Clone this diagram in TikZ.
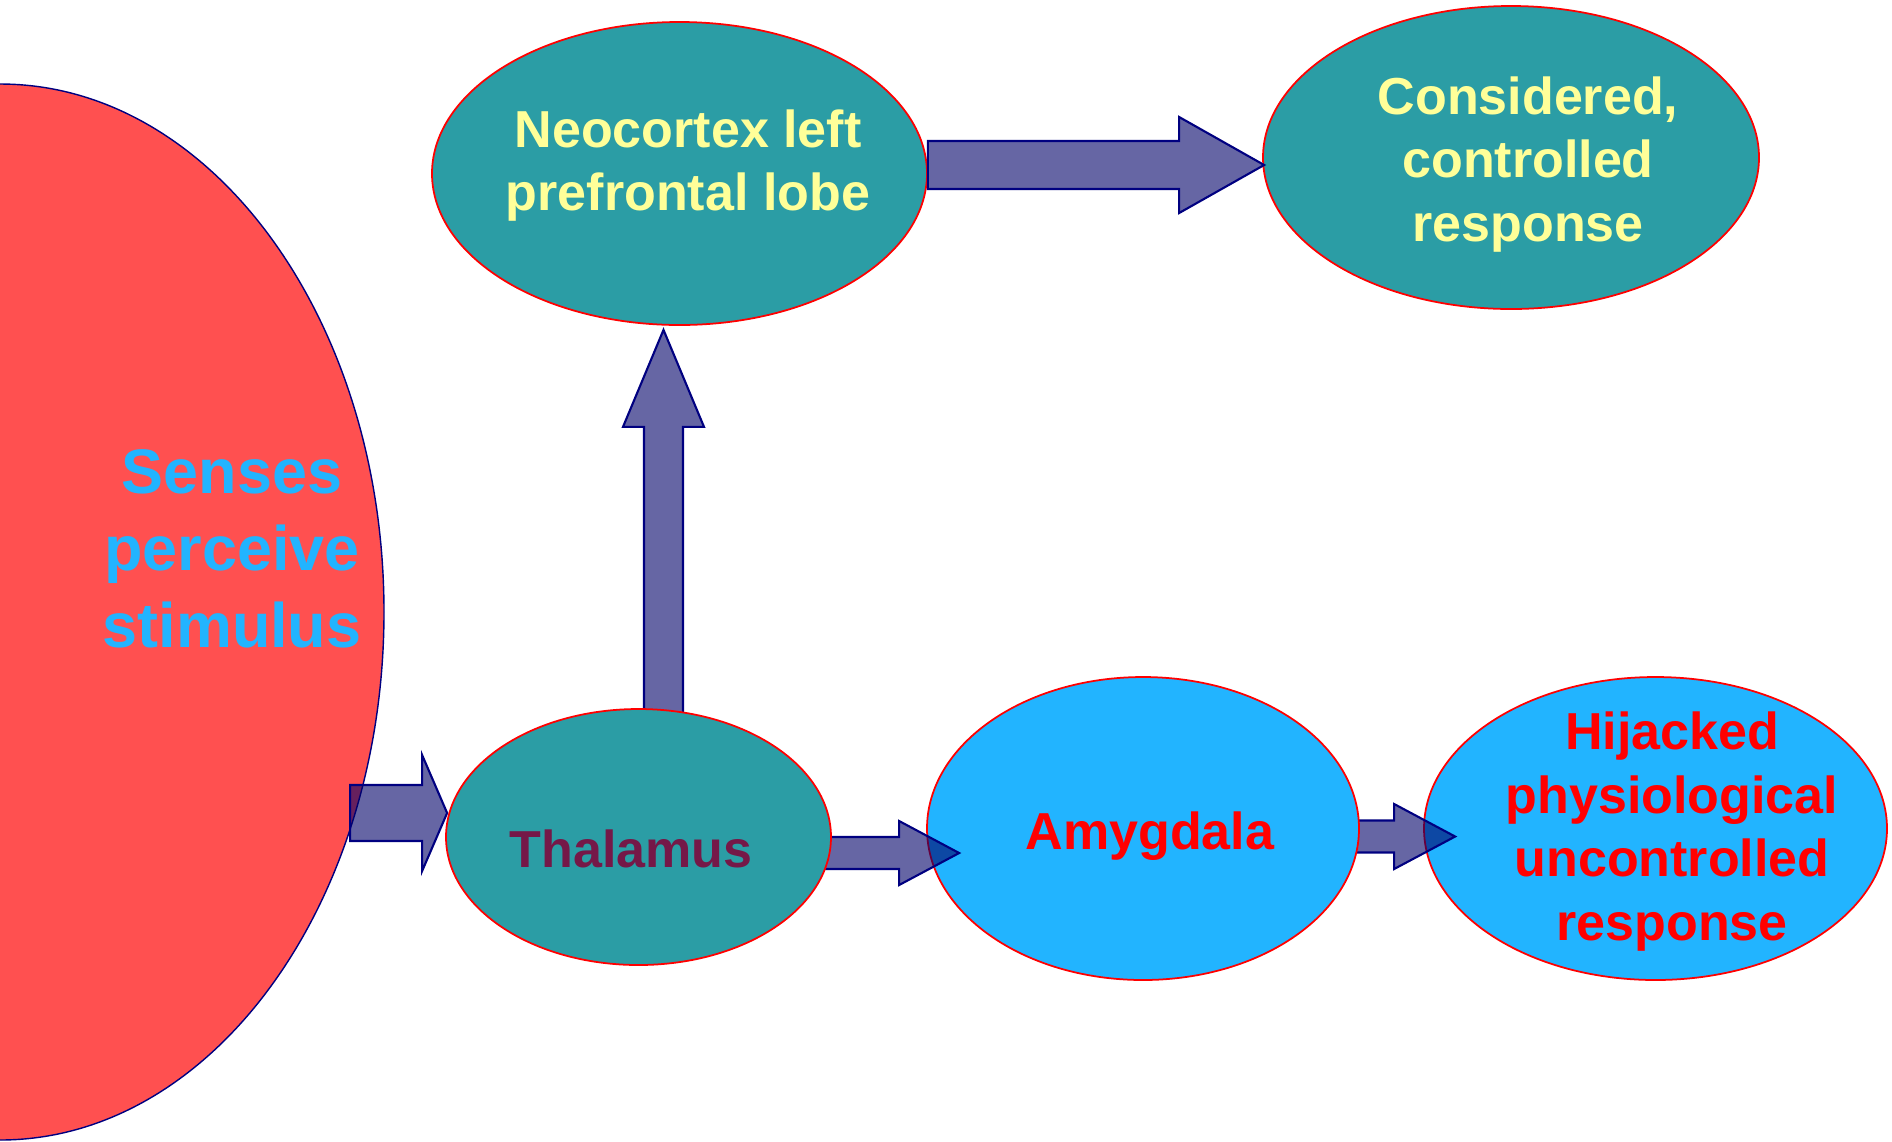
\documentclass[tikz,border=0pt]{standalone}
\usepackage{fontspec}
\setmainfont{Liberation Sans}
\usepackage{tikz}
\usetikzlibrary{calc,positioning,shapes.geometric}

\definecolor{sensered}{HTML}{FF5050}
\definecolor{regionteal}{HTML}{2B9DA5}
\definecolor{regionblue}{HTML}{22B4FF}
\definecolor{paleyellow}{HTML}{FFFF99}
\definecolor{thalred}{HTML}{751848}
\definecolor{arrowfill}{RGB}{0,0,104}
\definecolor{arrowline}{HTML}{000080}

\pgfdeclarelayer{bottom}
\pgfdeclarelayer{lower}
\pgfdeclarelayer{upper}
\pgfdeclarelayer{top}
\pgfsetlayers{bottom,lower,main,upper,top}

\tikzset{
	region/.style={shape=ellipse,draw=red,line width=0.5pt,inner sep=0pt},
	regiontext/.style={font=\bfseries\fontsize{14.8}{18.1}\selectfont,align=center,inner sep=0pt},
	blockarrow/.style={draw=arrowline,line width=0.6pt,fill=arrowfill,fill opacity=0.6,line join=miter},
}

% block arrows: start, tip, shaft half width, head half width, head length
\newcommand{\rightblock}[5]{%
	\draw[blockarrow] ($(#1 |- #2)+(0,#3)$) -- ($(#2)+(-#5,#3)$) -- ($(#2)+(-#5,#4)$) -- (#2)
		-- ($(#2)+(-#5,-#4)$) -- ($(#2)+(-#5,-#3)$) -- ($(#1 |- #2)+(0,-#3)$) -- cycle;}
\newcommand{\upblock}[5]{%
	\draw[blockarrow] ($(#2 |- #1)+(#3,0)$) -- ($(#2)+(#3,#5)$) -- ($(#2)+(#4,#5)$) -- (#2)
		-- ($(#2)+(-#4,#5)$) -- ($(#2)+(-#3,#5)$) -- ($(#2 |- #1)+(-#3,0)$) -- cycle;}

\begin{document}
\begin{tikzpicture}[x=0.1mm,y=-0.1mm]
	\useasboundingbox (0,0) rectangle (1892,1141);
	\begin{pgfonlayer}{bottom}
		\node(senses) [shape=ellipse,draw=arrowline,fill=sensered,line width=0.4pt,inner sep=0pt,minimum width=76.8mm,minimum height=105.6mm] at (0,612) {};
		\node(hijacked) [region,fill=regionblue,minimum width=46.3mm,minimum height=30.3mm] at (1655.5,828.5) {};
	\end{pgfonlayer}
	\node(amygdala) [region,fill=regionblue,minimum width=43.2mm,minimum height=30.3mm] at (1143,828.5) {};
	\node(neocortex) [region,fill=regionteal,minimum width=49.5mm,minimum height=30.3mm] at (679.5,173.5) {};
	\node(considered) [region,fill=regionteal,minimum width=49.6mm,minimum height=30.3mm] at (1511,157.5) {};
	\begin{pgfonlayer}{top}
		\node(thalamus) [region,fill=regionteal,minimum width=38.5mm,minimum height=25.6mm] at (638.5,837) {};
		% texts
		\node(sensestext) [regiontext,font=\bfseries\fontsize{17.9}{21.9}\selectfont,text=regionblue] at ($(senses)+(232,-63)$) {Senses\\perceive\\stimulus};
		\node(neotext) [regiontext,text=paleyellow] at ($(neocortex)+(8.5,-8)$) {Neocortex left\\prefrontal lobe};
		\node(constext) [regiontext,text=paleyellow] at ($(considered)+(17,7)$) {Considered,\\controlled\\response};
		\node(thaltext) [regiontext,text=thalred] at ($(thalamus)+(-7.5,12)$) {Thalamus};
		\node(amytext) [regiontext,text=red] at ($(amygdala)+(7,8)$) {Amygdala};
		\node(hijtext) [regiontext,text=red] at ($(hijacked)+(16.5,3)$) {Hijacked\\physiological\\uncontrolled\\response};
	\end{pgfonlayer}

	\coordinate (s1) at ($(thalamus.west)+(-95,-24)$);
	\coordinate (t1) at ($(thalamus.west)+(2,-24)$);
	\coordinate (s2) at ($(thalamus.east)+(-30,16)$);
	\coordinate (t2) at ($(amygdala.west)+(33,24.5)$);
	\coordinate (s3) at ($(amygdala.east)+(-30,8)$);
	\coordinate (t3) at ($(hijacked.west)+(32,8)$);
	\coordinate (s4) at ($(thalamus.north)+(25,40)$);
	\coordinate (t4) at ($(neocortex.south)+(-16,4)$);
	\coordinate (t5) at ($(considered.west)+(2,7.5)$);

	\begin{pgfonlayer}{lower}
		\rightblock{s3}{t3}{16}{32.5}{61}
	\end{pgfonlayer}
	\begin{pgfonlayer}{upper}
		\rightblock{s1}{t1}{28}{58}{25}
		\rightblock{s2}{t2}{16}{32}{60}
		\upblock{s4}{t4}{19.5}{40.5}{97}
		\rightblock{neocortex.east}{t5}{24}{48}{85}
	\end{pgfonlayer}
\end{tikzpicture}
\end{document}
